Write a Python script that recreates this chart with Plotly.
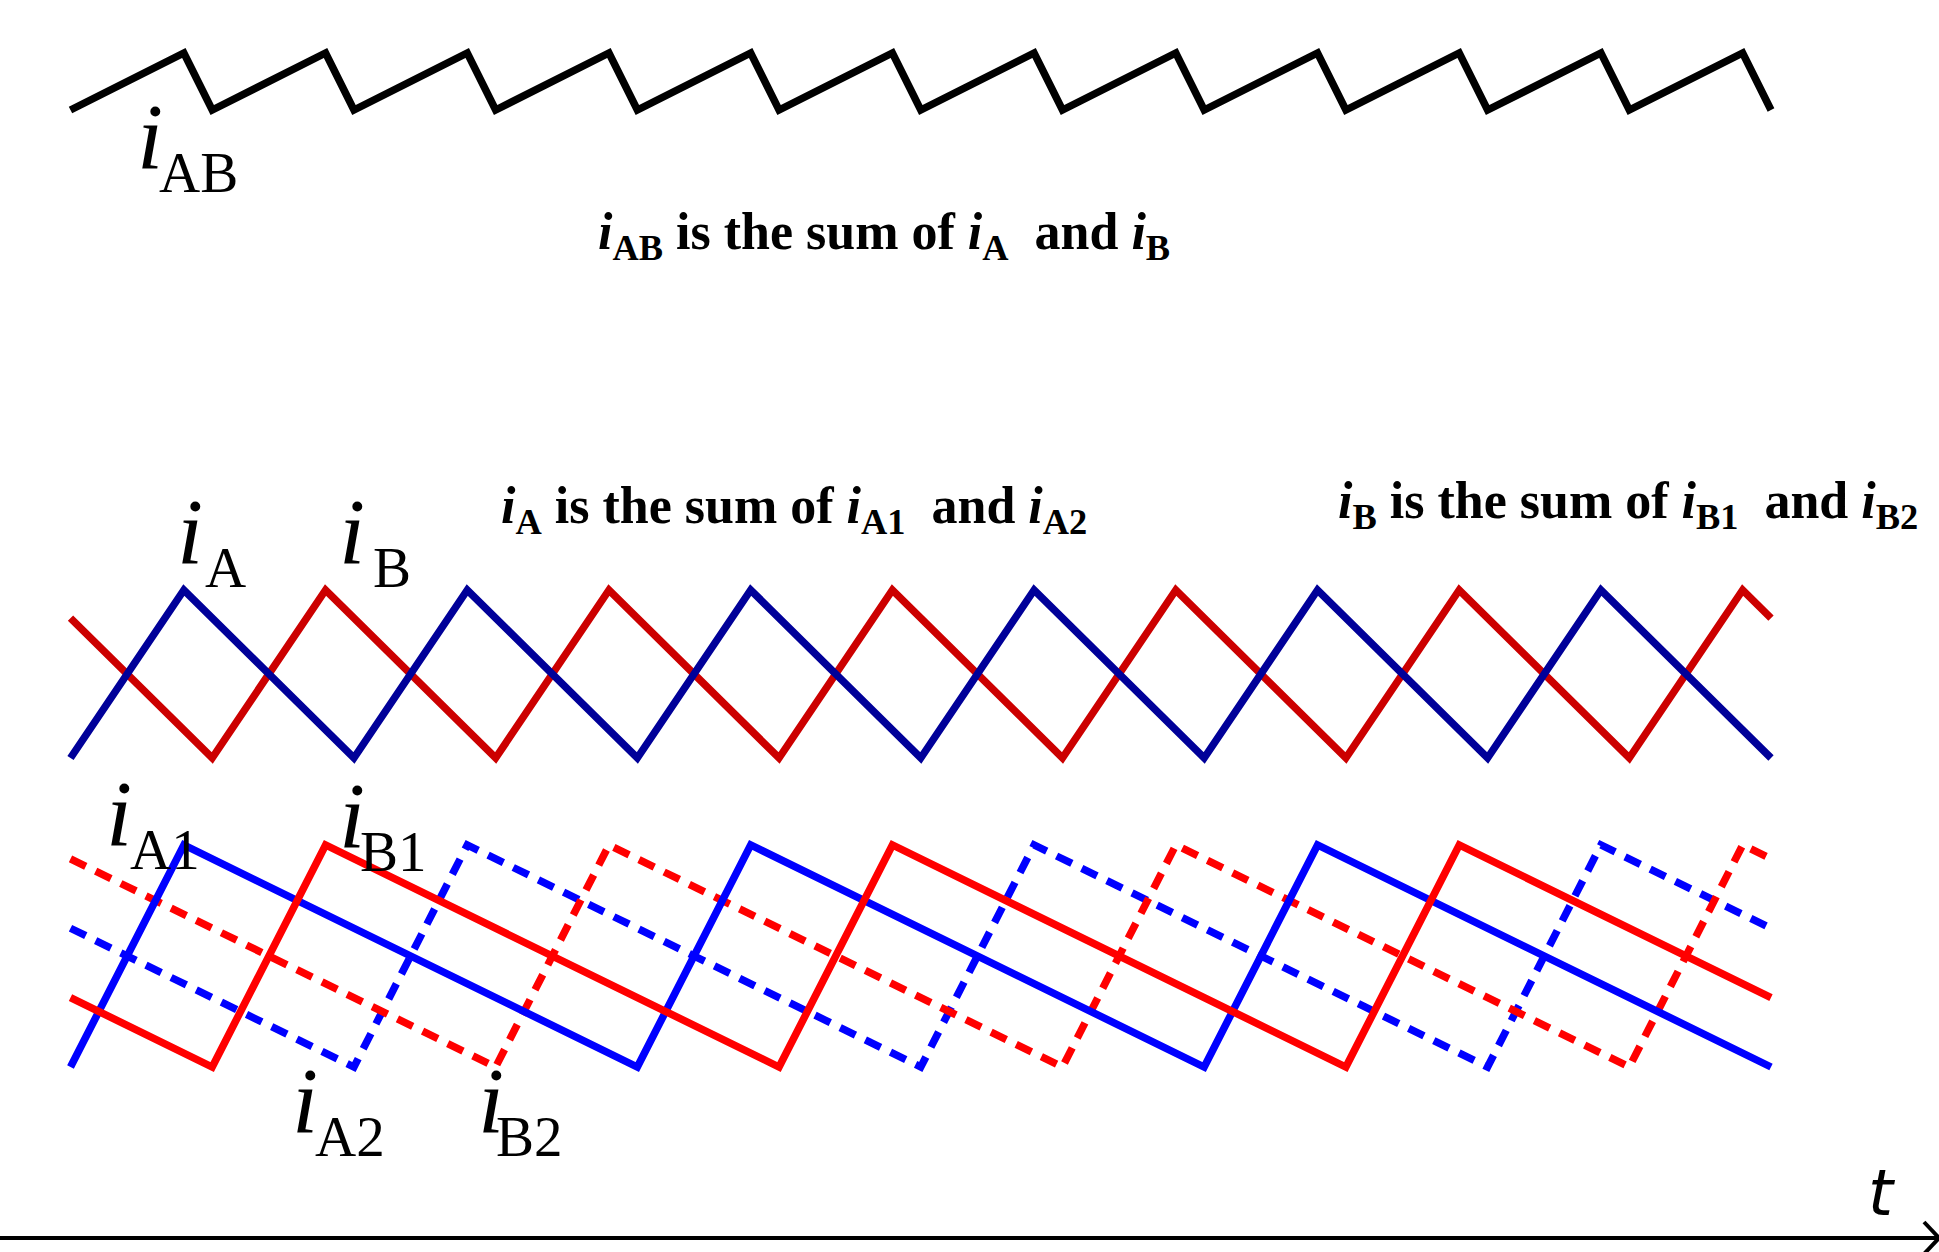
import plotly.graph_objects as go

W, H = 1939, 1252

# ---- waveform vertices (time in switching periods, currents normalised) ----
# total current i_AB
t_ab = [0, 0.8, 1, 1.8, 2, 2.8, 3, 3.8, 4, 4.8, 5, 5.8, 6, 6.8, 7, 7.8, 8, 8.8,
        9, 9.8, 10, 10.8, 11, 11.8, 12]
i_ab = [0.833, 1.167, 0.833, 1.167, 0.833, 1.167, 0.833, 1.167, 0.833, 1.167,
        0.833, 1.167, 0.833, 1.167, 0.833, 1.167, 0.833, 1.167, 0.833, 1.167,
        0.833, 1.167, 0.833, 1.167, 0.833]

# phase currents i_A and i_B
t_a = [0, 0.8, 2, 2.8, 4, 4.8, 6, 6.8, 8, 8.8, 10, 10.8, 12]
i_a = [0, 1, 0, 1, 0, 1, 0, 1, 0, 1, 0, 1, 0]
t_b = [0, 1, 1.8, 3, 3.8, 5, 5.8, 7, 7.8, 9, 9.8, 11, 11.8, 12]
i_b = [0.833, 0, 1, 0, 1, 0, 1, 0, 1, 0, 1, 0, 1, 0.833]

# branch currents
t_a1 = [0, 0.8, 4, 4.8, 8, 8.8, 12]
i_a1 = [0, 1, 0, 1, 0, 1, 0]
t_a2 = [0, 2, 2.8, 6, 6.8, 10, 10.8, 12]
i_a2 = [0.625, 0, 1, 0, 1, 0, 1, 0.625]
t_b1 = [0, 1, 1.8, 5, 5.8, 9, 9.8, 12]
i_b1 = [0.3125, 0, 1, 0, 1, 0, 1, 0.3125]
t_b2 = [0, 3, 3.8, 7, 7.8, 11, 11.8, 12]
i_b2 = [0.9375, 0, 1, 0, 1, 0, 1, 0.9375]


def axis_range(v_hi, p_hi, v_lo, p_lo, size):
    """Range for an axis spanning the whole figure so that value v_hi sits at
    pixel p_hi and v_lo at pixel p_lo (pixels counted from top/left)."""
    k = (p_lo - p_hi) / (v_hi - v_lo)
    hi = v_hi + p_hi / k
    return [hi - size / k, hi]


def x_range(t0, p0, t1, p1, size):
    k = (p1 - p0) / (t1 - t0)
    lo = t0 - p0 / k
    return [lo, lo + size / k]


LW = 7.5
DASH = "17px,11px"
NAVY, DRED = "#000099", "#CC0000"
BLUE, RED = "#0000FF", "#FF0000"

fig = go.Figure()
fig.add_trace(go.Scatter(x=t_ab, y=i_ab, mode="lines", yaxis="y",
                         line=dict(color="black", width=LW)))
fig.add_trace(go.Scatter(x=t_b, y=i_b, mode="lines", yaxis="y2",
                         line=dict(color=DRED, width=LW)))
fig.add_trace(go.Scatter(x=t_a, y=i_a, mode="lines", yaxis="y2",
                         line=dict(color=NAVY, width=LW)))
fig.add_trace(go.Scatter(x=t_a2, y=i_a2, mode="lines", yaxis="y3",
                         line=dict(color=BLUE, width=LW, dash=DASH)))
fig.add_trace(go.Scatter(x=t_b2, y=i_b2, mode="lines", yaxis="y3",
                         line=dict(color=RED, width=LW, dash=DASH)))
fig.add_trace(go.Scatter(x=t_a1, y=i_a1, mode="lines", yaxis="y3",
                         line=dict(color=BLUE, width=LW)))
fig.add_trace(go.Scatter(x=t_b1, y=i_b1, mode="lines", yaxis="y3",
                         line=dict(color=RED, width=LW)))


def px(x):
    return x / W


def py(y):
    return 1 - y / H


SERIF = "Liberation Serif"
annotations = []


def current_label(xc, base, sub, xs, size_i=94, size_s=57):
    """Italic i with an upright subscript; base = baseline of the i."""
    annotations.append(dict(
        x=px(xc), y=py(base - 0.3375 * size_i), xref="paper", yref="paper",
        text="<i>i</i>", showarrow=False, xanchor="center", yanchor="middle",
        font=dict(family=SERIF, size=size_i, color="black")))
    sb = base + 24
    annotations.append(dict(
        x=px(xs), y=py(sb - 0.3375 * size_s), xref="paper", yref="paper",
        text=sub, showarrow=False, xanchor="left", yanchor="middle",
        font=dict(family=SERIF, size=size_s, color="black")))


current_label(150, 168, "AB", 157)
current_label(190, 563, "A", 203)
current_label(352, 563, "B", 371)
current_label(119, 845, "A1", 128)
current_label(352, 847, "B1", 358)
current_label(305, 1132, "A2", 313)
current_label(491, 1132, "B2", 494)


def sentence(x_left, base, text, size=52):
    annotations.append(dict(
        x=px(x_left), y=py(base - 0.3375 * size + 4), xref="paper", yref="paper",
        text="<b>" + text + "</b>", showarrow=False, xanchor="left",
        yanchor="middle", font=dict(family=SERIF, size=size, color="black")))


sentence(596, 249, "<i>i</i><sub>AB</sub> is the sum of <i>i</i><sub>A</sub>&nbsp; and <i>i</i><sub>B</sub>")
sentence(499, 523, "<i>i</i><sub>A</sub> is the sum of <i>i</i><sub>A1</sub>&nbsp; and <i>i</i><sub>A2</sub>")
sentence(1336, 518, "<i>i</i><sub>B</sub> is the sum of <i>i</i><sub>B1</sub>&nbsp; and <i>i</i><sub>B2</sub>")

# time-axis label
annotations.append(dict(
    x=px(1882), y=py(1212 - 0.3 * 64), xref="paper", yref="paper",
    text="<i>t</i>", showarrow=False, xanchor="center", yanchor="middle",
    font=dict(family="DejaVu Sans", size=64, color="black", weight=200)))

# time axis with open arrow head
AX_Y = 1238
shapes = [
    dict(type="line", xref="paper", yref="paper", x0=0, x1=1,
         y0=py(AX_Y), y1=py(AX_Y), line=dict(color="black", width=4)),
    dict(type="line", xref="paper", yref="paper", x0=px(1924), x1=px(1939),
         y0=py(AX_Y - 16), y1=py(AX_Y), line=dict(color="black", width=4)),
    dict(type="line", xref="paper", yref="paper", x0=px(1924), x1=px(1939),
         y0=py(AX_Y + 16), y1=py(AX_Y), line=dict(color="black", width=4)),
]

hidden = dict(visible=False, showgrid=False, zeroline=False, fixedrange=True)
fig.update_layout(
    width=W, height=H, autosize=False,
    margin=dict(l=0, r=0, t=0, b=0, pad=0),
    paper_bgcolor="white", plot_bgcolor="white",
    showlegend=False,
    xaxis=dict(range=x_range(0, 70.5, 12, 1771, W), **hidden),
    yaxis=dict(range=axis_range(1.167, 53, 0.833, 110, H), **hidden),
    yaxis2=dict(range=axis_range(1, 590, 0, 758, H), overlaying="y", **hidden),
    yaxis3=dict(range=axis_range(1, 845, 0, 1067, H), overlaying="y", **hidden),
    annotations=annotations,
    shapes=shapes,
)

fig.write_html("out.html")
